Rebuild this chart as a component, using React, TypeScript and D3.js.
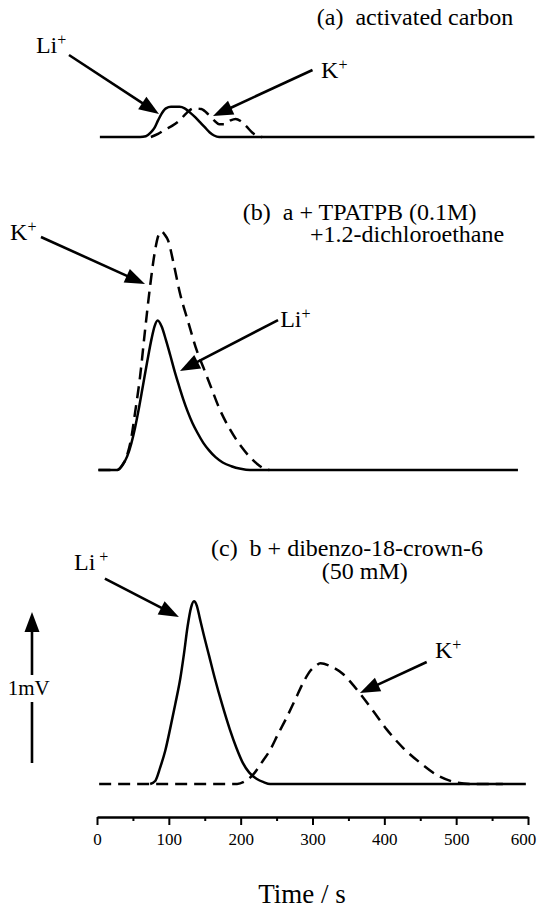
import React, { useEffect, useRef } from "react";
import * as d3 from "d3";

type Pt = [number, number]; // [time (s), signal (mV above panel baseline)]

// (a) activated carbon
const liA: Pt[] = [[4, 0], [60, 0], [68, 0.005], [75, 0.03], [80, 0.06], [85, 0.11], [90, 0.155], [96, 0.19], [103, 0.2], [115, 0.2], [122, 0.19], [130, 0.16], [137, 0.13], [143, 0.1], [150, 0.065], [157, 0.03], [163, 0.01], [170, 0], [609, 0]];
const kA: Pt[] = [[75, 0], [85, 0.02], [95, 0.05], [105, 0.075], [115, 0.11], [125, 0.16], [135, 0.19], [145, 0.185], [155, 0.15], [163, 0.11], [170, 0.085], [178, 0.085], [186, 0.11], [193, 0.12], [200, 0.105], [208, 0.07], [216, 0.03], [224, 0.005], [230, 0]];

// (b) a + TPATPB
const liB: Pt[] = [[2, 0], [28, 0], [35, 0.03], [42, 0.09], [48, 0.18], [53, 0.28], [58, 0.4], [64, 0.56], [70, 0.72], [76, 0.87], [80, 0.95], [84.5, 0.99], [90, 0.95], [96, 0.86], [102, 0.76], [108, 0.655], [114, 0.56], [120, 0.47], [126, 0.39], [133, 0.31], [140, 0.245], [148, 0.18], [156, 0.13], [165, 0.085], [175, 0.05], [187, 0.025], [200, 0.008], [213, 0], [586, 0]];
const kB: Pt[] = [[2, 0], [28, 0], [35, 0.03], [42, 0.1], [48, 0.22], [53, 0.38], [60, 0.62], [67, 0.93], [74, 1.22], [80, 1.43], [86, 1.56], [90, 1.58], [94, 1.56], [99, 1.52], [107, 1.36], [115.5, 1.17], [127, 0.98], [139, 0.79], [148, 0.68], [157, 0.57], [171, 0.4], [185, 0.27], [200, 0.16], [212, 0.09], [223, 0.04], [232, 0.01], [240, 0]];

// (c) b + dibenzo-18-crown-6
const liC: Pt[] = [[74, 0], [81, 0.02], [88, 0.11], [95, 0.22], [102, 0.37], [109, 0.53], [116, 0.7], [121, 0.86], [126, 1.04], [131, 1.17], [135, 1.21], [139, 1.18], [143, 1.1], [148, 1.0], [156, 0.85], [164, 0.7], [174, 0.53], [185, 0.36], [194, 0.24], [203, 0.14], [212, 0.075], [222, 0.035], [232, 0.012], [241, 0], [597, 0]];
const kC: Pt[] = [[3, 0], [195, 0], [205, 0.015], [217, 0.06], [229, 0.14], [241, 0.225], [252, 0.33], [264, 0.44], [276, 0.56], [287, 0.67], [297, 0.75], [304, 0.78], [311, 0.8], [325, 0.78], [342, 0.73], [354, 0.67], [366, 0.6], [385, 0.48], [403.5, 0.36], [426, 0.24], [450, 0.14], [473, 0.06], [496, 0.015], [520, 0], [565, 0]];

const MAJOR_TICKS = [0, 100, 200, 300, 400, 500, 600];
const MINOR_TICKS = [50, 150, 250, 350, 450, 550];

const FONT = "'Liberation Serif', 'Times New Roman', serif";

// annotations in data coords [t, mV]
type Label = { at: Pt; text: string; sup?: string; supGap?: number; size?: number };
type ArrowDef = { from: Pt; to: Pt };

const x = d3.scaleLinear().domain([0, 600]).range([97, 528]);
const panelY = (base: number) => d3.scaleLinear().domain([0, 1]).range([base, base - 151]);

const panels = [
  {
    y: panelY(137),
    series: [
      { data: liA, dashed: false },
      { data: kA, dashed: true },
    ],
    labels: [
      { at: [306, 0.742], text: "(a)  activated carbon" },
      { at: [-85, 0.556], text: "Li", sup: "+" },
      { at: [312, 0.39], text: "K", sup: "+" },
    ] as Label[],
    arrows: [
      { from: [-39, 0.543], to: [86.3, 0.152] },
      { from: [300, 0.444], to: [161.5, 0.139] },
    ] as ArrowDef[],
  },
  {
    y: panelY(470),
    series: [
      { data: liB, dashed: false },
      { data: kB, dashed: true },
    ],
    labels: [
      { at: [203, 1.656], text: "(b)  a + TPATPB (0.1M)" },
      { at: [296.5, 1.51], text: "+1.2-dichloroethane" },
      { at: [-121, 1.523], text: "K", sup: "+" },
      { at: [255, 0.947], text: "Li", sup: "+" },
    ] as Label[],
    arrows: [
      { from: [-78, 1.543], to: [66.8, 1.232] },
      { from: [252, 0.993], to: [115.5, 0.656] },
    ] as ArrowDef[],
  },
  {
    y: panelY(784),
    series: [
      { data: liC, dashed: false },
      { data: kC, dashed: true },
    ],
    labels: [
      { at: [158.7, 1.51], text: "(c)  b + dibenzo-18-crown-6" },
      { at: [313, 1.355], text: "(50 mM)" },
      { at: [-32, 1.42], text: "Li", sup: "+", supGap: 4 },
      { at: [470.5, 0.834], text: "K", sup: "+" },
    ] as Label[],
    arrows: [
      { from: [11, 1.36], to: [114, 1.106] },
      { from: [459, 0.808], to: [366, 0.603] },
    ] as ArrowDef[],
  },
];

function Arrow({ x1, y1, x2, y2 }: { x1: number; y1: number; x2: number; y2: number }) {
  const head = 20, half = 7.5;
  const len = Math.hypot(x2 - x1, y2 - y1);
  const ux = (x2 - x1) / len, uy = (y2 - y1) / len;
  const bx = x2 - ux * head, by = y2 - uy * head;
  const px = -uy * half, py = ux * half;
  return (
    <g>
      <line x1={x1} y1={y1} x2={bx + ux * 2} y2={by + uy * 2} stroke="#000" strokeWidth={2.6} />
      <polygon points={`${x2},${y2} ${bx + px},${by + py} ${bx - px},${by - py}`} fill="#000" />
    </g>
  );
}

export default function App() {
  const axisRef = useRef<SVGGElement>(null);

  useEffect(() => {
    const g = d3.select(axisRef.current);
    g.selectAll("*").remove();
    g.append("g")
      .call(d3.axisBottom(x).tickValues(MINOR_TICKS).tickSize(4).tickFormat(() => ""))
      .call(s => s.select(".domain").remove())
      .selectAll("line").attr("stroke-width", 2);
    const major = g.append("g")
      .call(d3.axisBottom(x).tickValues(MAJOR_TICKS).tickSize(8).tickSizeOuter(0).tickPadding(8).tickFormat(d3.format("d")));
    major.select(".domain").attr("stroke-width", 2.4);
    major.selectAll("line").attr("stroke-width", 2);
    major.selectAll<SVGTextElement, number>("text")
      .attr("font-family", FONT)
      .attr("font-size", 17)
      .attr("fill", "#000")
      .attr("dx", d => (d === 600 ? -5 : 0));
  }, []);

  const scaleY = panels[2].y;
  const scaleX = x(-90.5);

  return (
    <svg width={537} height={910} style={{ position: "absolute", left: 0, top: 0, background: "#fff" }}
      fontFamily={FONT}>
      {panels.map((p, i) => {
        const line = d3.line<Pt>().x(d => x(d[0])).y(d => p.y(d[1])).curve(d3.curveMonotoneX);
        return (
          <g key={i}>
            {p.series.map((s, j) => (
              <path key={j} d={line(s.data) || ""} fill="none" stroke="#000" strokeWidth={2.5}
                strokeDasharray={s.dashed ? "12,7" : undefined} />
            ))}
            {p.arrows.map((a, j) => (
              <Arrow key={j} x1={x(a.from[0])} y1={p.y(a.from[1])} x2={x(a.to[0])} y2={p.y(a.to[1])} />
            ))}
            {p.labels.map((l, j) => (
              <text key={j} x={x(l.at[0])} y={p.y(l.at[1])} fontSize={l.size || 24} style={{ whiteSpace: "pre" }}>
                {l.text}
                {l.sup && <tspan dx={l.supGap || 0} dy={-8} fontSize={16}>{l.sup}</tspan>}
              </text>
            ))}
          </g>
        );
      })}

      {/* 1 mV scale arrow */}
      <line x1={scaleX} x2={scaleX} y1={scaleY(0.139)} y2={scaleY(0.543)} stroke="#000" strokeWidth={2.6} />
      <Arrow x1={scaleX} y1={scaleY(0.722)} x2={scaleX} y2={scaleY(1.139)} />
      <text x={x(-95)} y={scaleY(0.589)} fontSize={21} textAnchor="middle">1mV</text>

      <g ref={axisRef} transform="translate(0,817)" />
      <text x={302} y={903} fontSize={27} textAnchor="middle">Time / s</text>
    </svg>
  );
}
